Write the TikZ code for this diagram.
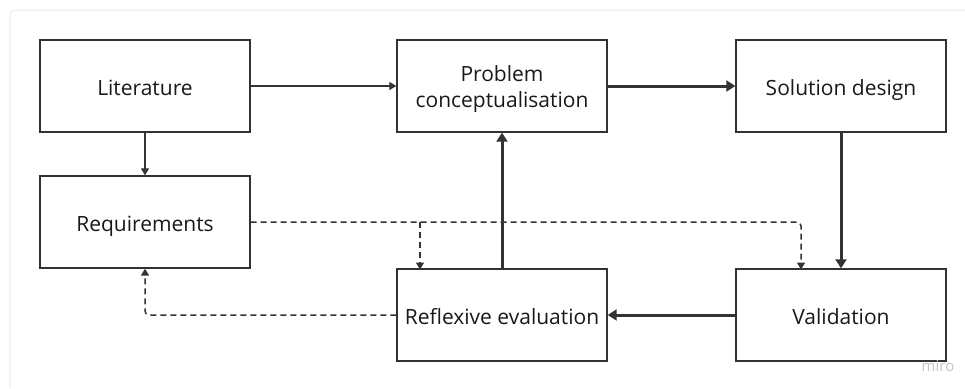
\documentclass[tikz,border=0pt]{standalone}
\usepackage{fontspec}
\setmainfont{Open Sans}
\usetikzlibrary{arrows.meta}
\definecolor{ink}{HTML}{333333}
\definecolor{frame}{HTML}{EBEBEB}
\definecolor{mark}{HTML}{C4C4DA}
\begin{document}
\begin{tikzpicture}[x=1pt,y=-1pt,
  stepbox/.style={draw=ink,line width=1.4pt,minimum width=210pt,minimum height=92pt,
    inner sep=0pt,align=center,font=\fontsize{21}{26.6}\selectfont,text=black!90,
    text height=19.4pt,text depth=0pt},
  twoline/.style={text height=43.6pt,text depth=0pt},
  thinarrow/.style={draw=ink,line width=1.3pt,-{Triangle[length=7pt,width=8pt]}},
  thickarrow/.style={draw=ink,line width=3pt,-{Triangle[length=9pt,width=11pt]}},
  dashline/.style={draw=ink,line width=1.5pt,dash pattern=on 6pt off 4pt,rounded corners=4pt,
    -{Triangle[length=7pt,width=8pt]}}]
\useasboundingbox (0,0) rectangle (965,388);
\fill[white] (0,0) rectangle (965,388);
% faint canvas frame
\draw[frame,line width=1pt,rounded corners=6pt] (10,388) -- (10,10) -- (965,10);
% steps
\node[stepbox] (lit) at (145,86) {Literature};
\node[stepbox] (req) at (145,222) {Requirements};
\node[stepbox,twoline] (prob) at (502,86) {Problem\\conceptualisation};
\node[stepbox] (sol) at (841,86) {Solution design};
\node[stepbox] (refl) at (502,315) {Reflexive evaluation};
\node[stepbox] (val) at (841,315) {Validation};
% solid flow
\draw[thinarrow] (lit.east) -- (prob.west);
\draw[thinarrow] (lit.south) -- (req.north);
\draw[thickarrow] (prob.east) -- (sol.west);
\draw[thickarrow] (sol.south) -- (val.north);
\draw[thickarrow] (val.west) -- (refl.east);
\draw[thickarrow] (refl.north) -- (prob.south);
% dashed feedback
\coordinate (split) at (420,222);
\draw[dashline] (req.east) -- (801,222) -- (801,269.5) coordinate (valtop);
\draw[dashline] (split) -- (420,269.5) coordinate (refltop);
\draw[dashline] (refl.west) -- (145,315) -- (req.south);
% watermark
\node[text=mark,font=\fontsize{15}{16}\selectfont,inner sep=0pt] (miro) at (938,366) {miro};
\end{tikzpicture}
\end{document}
